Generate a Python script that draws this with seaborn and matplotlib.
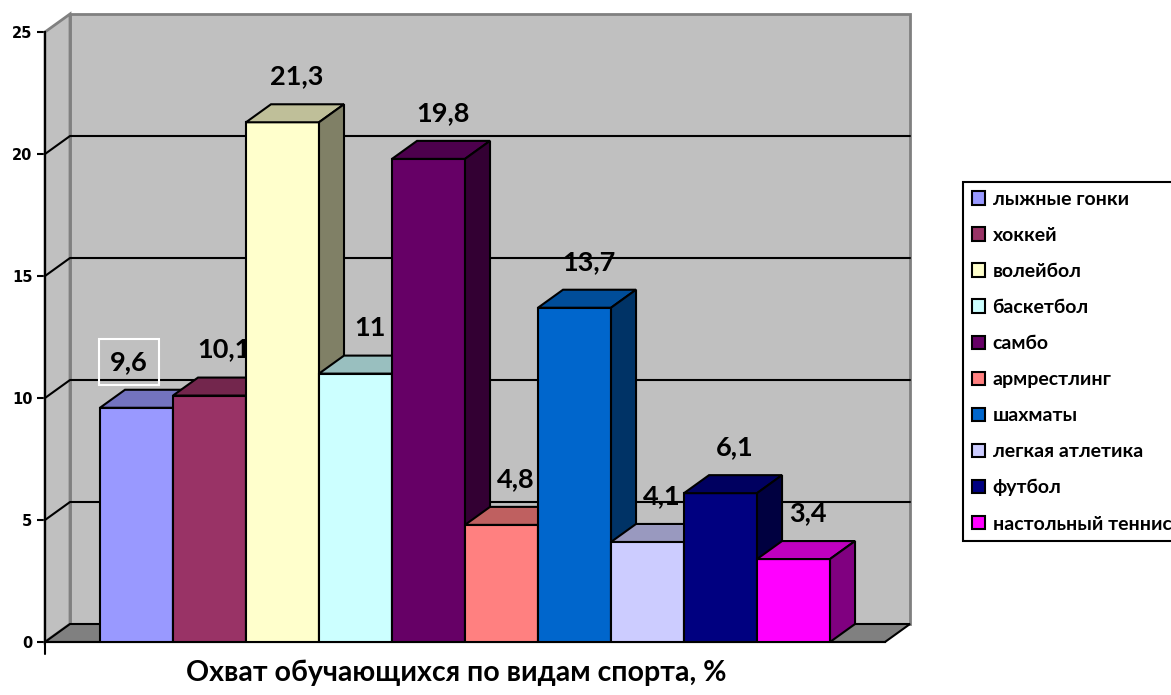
import matplotlib
matplotlib.use("Agg")
import matplotlib.pyplot as plt
from matplotlib.patches import Polygon, Patch
from matplotlib.colors import to_rgb
import seaborn as sns
import numpy as np
import pandas as pd

# ---- data ----
sports = ["лыжные гонки", "хоккей", "волейбол", "баскетбол", "самбо",
          "армрестлинг", "шахматы", "легкая атлетика", "футбол", "настольный теннис"]
coverage = [9.6, 10.1, 21.3, 11, 19.8, 4.8, 13.7, 4.1, 6.1, 3.4]
colors = ["#9999FF", "#993366", "#FFFFCC", "#CCFFFF", "#660066",
          "#FF8080", "#0066CC", "#CCCCFF", "#000080", "#FF00FF"]
y_ticks = [0, 5, 10, 15, 20, 25]
title = "Охват обучающихся по видам спорта, %"

sns.set_style("white")
plt.rcParams["font.family"] = ["Lato", "DejaVu Sans"]
plt.rcParams["text.color"] = "black"
plt.rcParams["ytick.color"] = "black"
plt.rcParams["ytick.labelcolor"] = "black"

fig = plt.figure(figsize=(11.71, 6.95), dpi=100)
ax = fig.add_axes([45 / 1171, 53 / 695, 840 / 1171, 610 / 695])

df = pd.DataFrame({"sport": sports, "coverage": coverage})
sns.barplot(data=df, x="sport", y="coverage", hue="sport", palette=colors,
            width=1, saturation=1, edgecolor="black", linewidth=1.5,
            legend=False, ax=ax)
bars = list(ax.patches)

# ---- pseudo 3D frame ----
x0, x1 = -1.2534, 10.253
ymax = y_ticks[-1]
dx = 25 / 73        # depth offset in x units
dy = 18 / 24.4      # depth offset in y units
ax.set_xlim(x0, x1)
ax.set_ylim(0, ymax)
ax.set_facecolor("none")

ax.add_patch(Polygon([(x0 + dx, dy), (x1 + dx, dy), (x1 + dx, ymax + dy), (x0 + dx, ymax + dy)],
                     closed=True, fc="#C0C0C0", ec="#808080", lw=2, clip_on=False, zorder=1))
ax.add_patch(Polygon([(x0, 0), (x0 + dx, dy), (x0 + dx, ymax + dy), (x0, ymax)],
                     closed=True, fc="#C0C0C0", ec="#808080", lw=2, clip_on=False, zorder=1))
ax.add_patch(Polygon([(x0, 0), (x1, 0), (x1 + dx, dy), (x0 + dx, dy)],
                     closed=True, fc="#808080", ec="black", lw=1.5, clip_on=False, zorder=2))

for t in y_ticks[1:-1]:
    ax.plot([x0, x0 + dx, x1 + dx], [t, t + dy, t + dy], color="black", lw=1.5,
            clip_on=False, zorder=3)

# ---- bar tops and sides ----
for i, rect in enumerate(bars):
    l, w, h = rect.get_x(), rect.get_width(), rect.get_height()
    base = np.array(to_rgb(rect.get_facecolor()))
    rect.set_zorder(10 + 3 * i)
    rect.set_joinstyle("miter")
    top = Polygon([(l, h), (l + w, h), (l + w + dx, h + dy), (l + dx, h + dy)],
                  closed=True, fc=base * 0.75, ec="black", lw=1.5, joinstyle="miter",
                  clip_on=False, zorder=11 + 3 * i)
    side = Polygon([(l + w, 0), (l + w + dx, dy), (l + w + dx, h + dy), (l + w, h)],
                   closed=True, fc=base * 0.5, ec="black", lw=1.5, joinstyle="miter",
                   clip_on=False, zorder=11 + 3 * i)
    ax.add_patch(top)
    ax.add_patch(side)

# ---- value labels (sit behind the bars) ----
for i, v in enumerate(coverage):
    txt = f"{v:g}".replace(".", ",")
    if i == 0:
        ax.text(i - 0.1, v + dy + 1.15, txt, ha="center", va="center", fontsize=19.5,
                fontweight="bold", color="black", zorder=5,
                bbox=dict(boxstyle="square,pad=0.4", fc="none", ec="white", lw=1.5))
    else:
        ax.text(i + 0.2, v + dy + 1.15, txt, ha="center", va="center", fontsize=19.5,
                fontweight="bold", color="black", zorder=5)

# ---- axes ----
for s in ["top", "right"]:
    ax.spines[s].set_visible(False)
for s in ["left", "bottom"]:
    ax.spines[s].set_visible(True)
    ax.spines[s].set_color("black")
    ax.spines[s].set_linewidth(1.5)
    ax.spines[s].set_zorder(4)
ax.plot([x0, x0], [0, -0.5], color="black", lw=1.5, clip_on=False)
ax.set_xticks([])
ax.set_yticks(y_ticks)
ax.tick_params(axis="y", direction="out", length=6, width=1.5, pad=3, left=True,
               colors="black")
for lbl in ax.get_yticklabels():
    lbl.set_fontfamily("DejaVu Sans")
    lbl.set_fontweight("bold")
    lbl.set_fontsize(10.5)
ax.set_xlabel("")
ax.set_ylabel("")

# ---- legend ----
handles = [Patch(fc=c, ec="black", lw=1.5) for c in colors]
leg = fig.legend(handles, sports, loc="upper left",
                 bbox_to_anchor=(963 / 1171, 1 - 182 / 695, 230 / 1171, 0), mode="expand",
                 frameon=True, fancybox=False, edgecolor="black", framealpha=1,
                 prop={"size": 14, "weight": "bold"}, borderpad=0.45, labelspacing=0.98,
                 handlelength=0.67, handleheight=0.67, handletextpad=0.4, borderaxespad=0)
leg.get_frame().set_linewidth(1.5)
for t in leg.get_texts():
    t.set_color("black")

fig.text(456 / 1171, 1 - 673 / 695, title, ha="center", va="center",
         fontsize=20.5, fontweight="bold", color="black")

fig.savefig("out.png", dpi=100)
plt.close()
